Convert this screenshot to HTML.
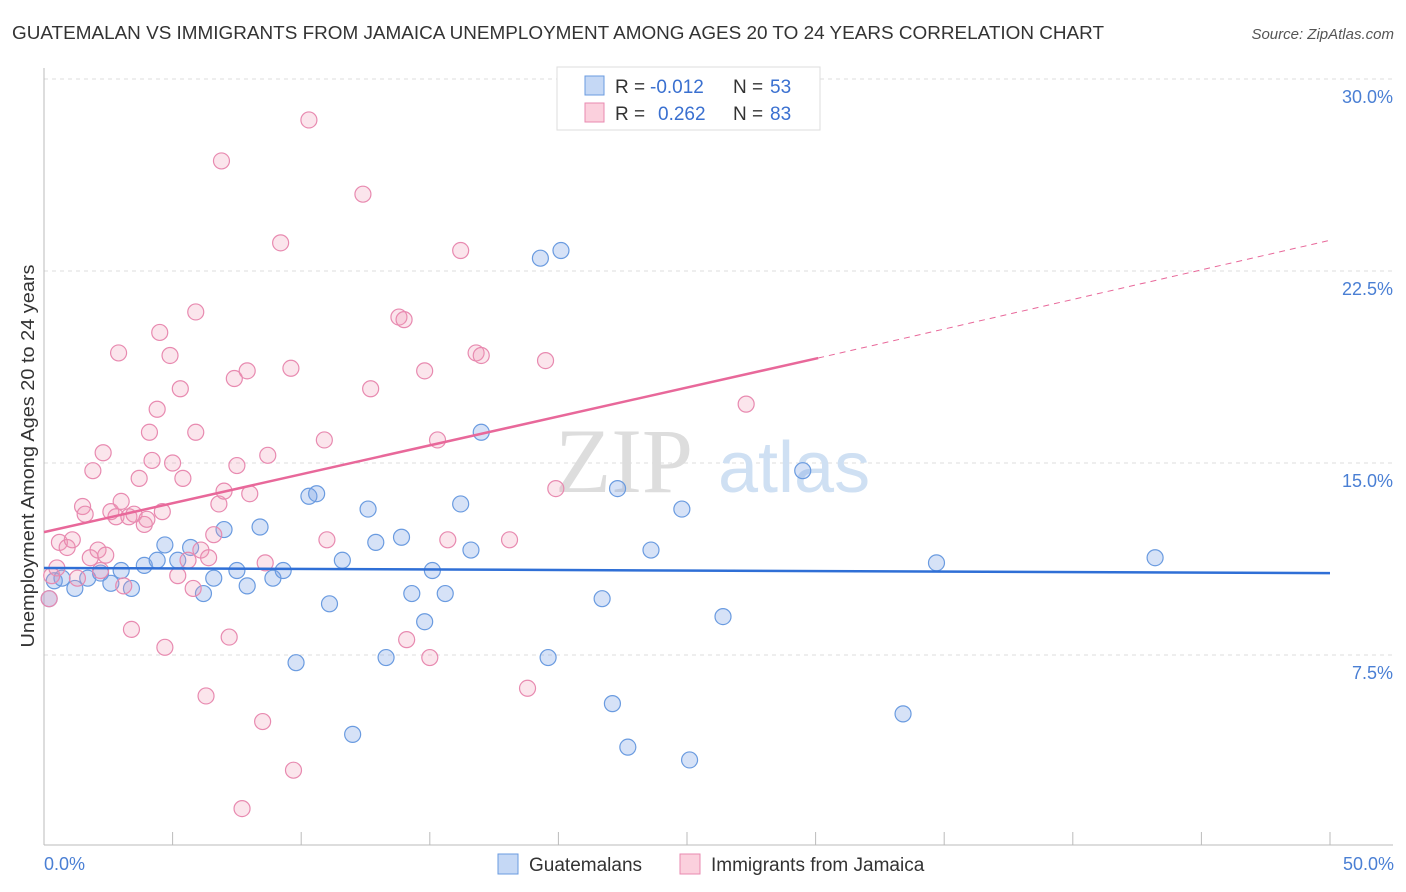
<!DOCTYPE html>
<html><head><meta charset="utf-8"><style>
body{margin:0;background:#fff;font-family:"Liberation Sans",sans-serif;}
svg{display:block}
</style></head><body>
<svg id="chart" width="1406" height="892" xmlns="http://www.w3.org/2000/svg" font-family="Liberation Sans, sans-serif">
<text x="12" y="39" font-size="18" fill="#333" textLength="1092" lengthAdjust="spacingAndGlyphs">GUATEMALAN VS IMMIGRANTS FROM JAMAICA UNEMPLOYMENT AMONG AGES 20 TO 24 YEARS CORRELATION CHART</text>
<text x="1394" y="39" font-size="15" fill="#555" text-anchor="end" font-style="italic">Source: ZipAtlas.com</text>
<g id="grid"></g>
<text x="555" y="492" font-size="92" fill="#ddd" font-family="Liberation Serif, serif">ZIP</text>
<text x="718" y="492" font-size="72" fill="#cfe0f3">atlas</text>
<g id="marks"></g>
<text transform="translate(34,456) rotate(-90)" font-size="18" fill="#333" text-anchor="middle" textLength="383" lengthAdjust="spacingAndGlyphs">Unemployment Among Ages 20 to 24 years</text>
<text x="44" y="870" font-size="18" fill="#4a7fd4">0.0%</text>
<text x="1394" y="870" font-size="18" fill="#4a7fd4" text-anchor="end">50.0%</text>
<g>
<rect x="557" y="67" width="263" height="63" fill="#fff" stroke="#ddd"/>
<rect x="585" y="76" width="19" height="19" fill="#c5d8f5" stroke="#6a9be0"/>
<rect x="585" y="103" width="19" height="19" fill="#fbd0dd" stroke="#e88ab0"/>
<text x="615" y="93" font-size="19" fill="#333">R =</text>
<text x="650" y="93" font-size="19" fill="#3a70d0">-0.012</text>
<text x="733" y="93" font-size="19" fill="#333">N =</text>
<text x="770" y="93" font-size="19" fill="#3a70d0">53</text>
<text x="615" y="120" font-size="19" fill="#333">R =</text>
<text x="658" y="120" font-size="19" fill="#3a70d0">0.262</text>
<text x="733" y="120" font-size="19" fill="#333">N =</text>
<text x="770" y="120" font-size="19" fill="#3a70d0">83</text>
</g>
<g>
<rect x="498" y="854" width="20" height="20" fill="#c5d8f5" stroke="#6a9be0"/>
<text x="529" y="871" font-size="19" fill="#333">Guatemalans</text>
<rect x="680" y="854" width="20" height="20" fill="#fbd0dd" stroke="#e88ab0"/>
<text x="711" y="871" font-size="19" fill="#333">Immigrants from Jamaica</text>
</g>
</svg>
<script>
const yTicks=[7.5,15,22.5,30];
const yTickLabels=["7.5%","15.0%","22.5%","30.0%"];
const blueX=[0.2,0.4,0.7,1.2,1.7,2.2,2.6,3.0,3.4,3.9,4.4,4.7,5.2,5.7,6.2,6.6,7.0,7.5,7.9,8.4,8.9,9.3,9.8,10.3,10.6,11.1,11.6,12.0,12.6,12.9,13.3,13.9,14.3,14.8,15.1,15.6,16.2,16.6,17.0,19.3,20.1,19.6,21.7,22.1,22.3,22.7,23.6,24.8,25.1,26.4,29.5,33.4,34.7,43.2];
const blueY=[9.7,10.4,10.5,10.1,10.5,10.7,10.3,10.8,10.1,11.0,11.2,11.8,11.2,11.7,9.9,10.5,12.4,10.8,10.2,12.5,10.5,10.8,7.2,13.7,13.8,9.5,11.2,4.4,13.2,11.9,7.4,12.1,9.9,8.8,10.8,9.9,13.4,11.6,16.2,23.0,23.3,7.4,9.7,5.6,14.0,3.9,11.6,13.2,3.4,9.0,14.7,5.2,11.1,11.3];
const pinkX=[0.2,0.3,0.5,0.6,0.9,1.1,1.3,1.5,1.6,1.8,1.9,2.1,2.2,2.3,2.4,2.6,2.8,2.9,3.0,3.1,3.3,3.4,3.5,3.7,3.9,4.0,4.1,4.2,4.4,4.5,4.6,4.7,4.9,5.0,5.2,5.3,5.4,5.6,5.8,5.9,5.9,6.1,6.3,6.4,6.6,6.8,6.9,7.0,7.2,7.4,7.5,7.7,7.9,8.0,8.5,8.6,8.7,9.2,9.6,9.7,10.3,10.9,11.0,12.4,12.7,13.8,14.0,14.1,14.8,15.0,15.3,15.7,16.2,16.8,17.0,18.1,18.8,19.5,19.9,27.3];
const pinkY=[9.7,10.6,10.9,11.9,11.7,12.0,10.5,13.3,13.0,11.3,14.7,11.6,10.8,15.4,11.4,13.1,12.9,19.3,13.5,10.2,12.9,8.5,13.0,14.4,12.6,12.8,16.2,15.1,17.1,20.1,13.1,7.8,19.2,15.0,10.6,17.9,14.4,11.2,10.1,16.2,20.9,11.6,5.9,11.3,12.2,13.4,26.8,13.9,8.2,18.3,14.9,1.5,18.6,13.8,4.9,11.1,15.3,23.6,18.7,3.0,28.4,15.9,12.0,25.5,17.9,20.7,20.6,8.1,18.6,7.4,15.9,12.0,23.3,19.3,19.2,12.0,6.2,19.0,14.0,17.3];
const blueTrend=[10.9,10.7];
const pinkTrend=[12.3,19.1,23.7];
const pinkSolidEnd=30.1;
const X=v=>44+v*25.72, Y=v=>847-v*25.6;
const NS="http://www.w3.org/2000/svg";
function mk(p,t,a){const e=document.createElementNS(NS,t);for(const k in a)e.setAttribute(k,a[k]);p.appendChild(e);return e;}
const grid=document.getElementById('grid'),marks=document.getElementById('marks');
yTicks.forEach((t,i)=>{
 const l=mk(grid,'line',{x1:44,x2:1393,y1:Y(t),y2:Y(t),stroke:'#ddd','stroke-dasharray':'4,4'});
 
 
 const tx=mk(grid,'text',{x:1393,y:Y(t)+24,'font-size':18,fill:'#4a7fd4','text-anchor':'end'});
 tx.textContent=yTickLabels[i];
 
 
});
const ax=mk(grid,'line',{x1:44,x2:44,y1:68,y2:845,stroke:'#bbb'});


const bx=mk(grid,'line',{x1:44,x2:1393,y1:845,y2:845,stroke:'#bbb'});


for(let i=0;i<=10;i++){const t=mk(grid,'line',{x1:X(i*5),x2:X(i*5),y1:832,y2:845,stroke:'#bbb'});
 
 }
function pts(xs,ys,fill,stroke,name){xs.forEach((x,i)=>{const c=mk(marks,'circle',{cx:X(x),cy:Y(ys[i]),r:8,fill,stroke,'stroke-width':1.2});
 
 });}
pts(blueX,blueY,'rgba(120,160,230,0.3)','#6a9be0','guatemalan-point');
pts(pinkX,pinkY,'rgba(240,150,180,0.25)','#e88ab0','jamaica-point');
const bl=mk(marks,'line',{x1:X(0),y1:Y(blueTrend[0]),x2:X(50),y2:Y(blueTrend[1]),stroke:'#2f6fd6','stroke-width':2.5});


const pl=mk(marks,'line',{x1:X(0),y1:Y(pinkTrend[0]),x2:X(pinkSolidEnd),y2:Y(pinkTrend[1]),stroke:'#e8689a','stroke-width':2.5});


const pd=mk(marks,'line',{x1:X(pinkSolidEnd),y1:Y(pinkTrend[1]),x2:X(50),y2:Y(pinkTrend[2]),stroke:'#e8689a','stroke-width':1,'stroke-dasharray':'6,5'});


</script>
</body></html>
